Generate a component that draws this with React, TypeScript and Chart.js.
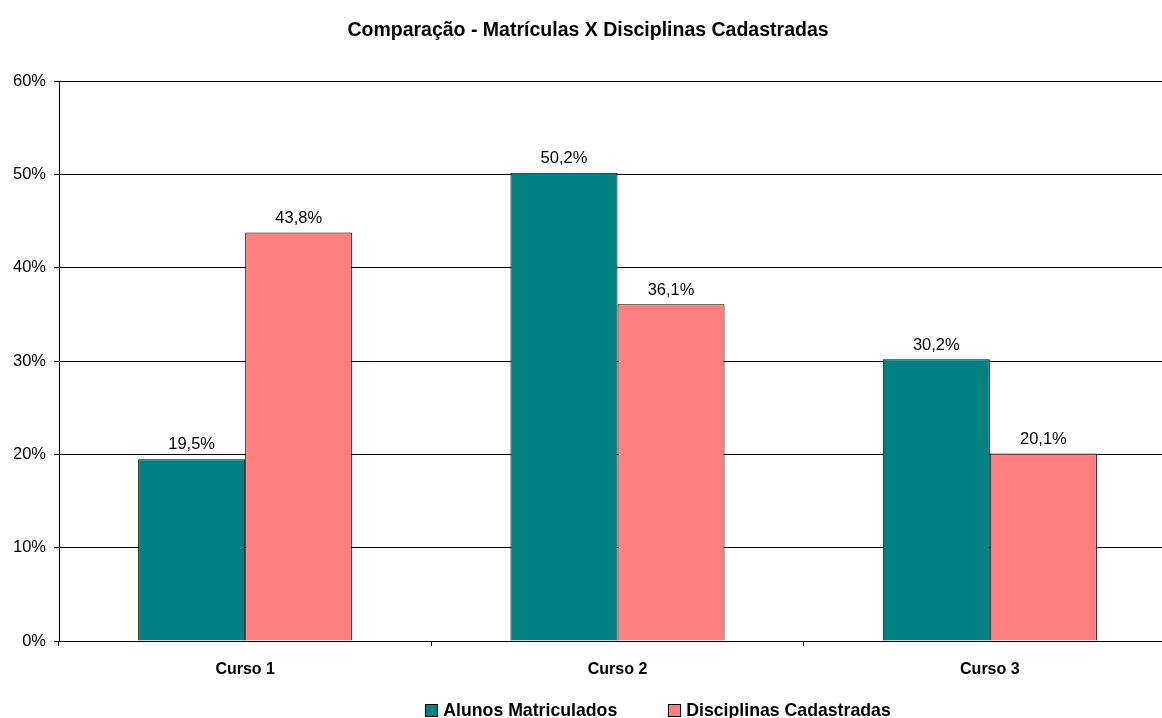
import React, { useEffect, useRef } from "react";
import { Chart, registerables } from "chart.js";

Chart.register(...registerables);

const titleText = "Comparação - Matrículas X Disciplinas Cadastradas";
const categories = ["Curso 1", "Curso 2", "Curso 3"];
const alunosMatriculados = [19.5, 50.2, 30.2];
const disciplinasCadastradas = [43.8, 36.1, 20.1];
const seriesNames = ["Alunos Matriculados", "Disciplinas Cadastradas"];
const seriesColors = ["#008080", "#FF8080"];
const yTickValues = [0, 10, 20, 30, 40, 50, 60];

const FONT = '"Liberation Sans", Arial, Helvetica, sans-serif';

// Canvas is a little wider than the visible frame; the plot runs past the right edge
const CANVAS_W = 1177;
const CANVAS_H = 718;
const FRAME_W = 1162;

const LEGEND_CENTER_X = 658;
const LEGEND_CENTER_Y = 710;

const fmt = (v: number) => v.toFixed(1).replace(".", ",") + "%";

// Writes each bar's value just above it
const valueLabels = {
  id: "valueLabels",
  afterDatasetsDraw(chart: any) {
    const ctx = chart.ctx;
    ctx.save();
    ctx.font = `16.5px ${FONT}`;
    ctx.fillStyle = "#000";
    ctx.textAlign = "center";
    ctx.textBaseline = "bottom";
    chart.data.datasets.forEach((ds: any, i: number) => {
      const meta = chart.getDatasetMeta(i);
      meta.data.forEach((bar: any, j: number) => {
        ctx.fillText(fmt(ds.data[j]), bar.x, bar.y - 6);
      });
    });
    ctx.restore();
  },
};

// Horizontal legend row under the axis labels
const bottomLegend = {
  id: "bottomLegend",
  afterDraw(chart: any) {
    const ctx = chart.ctx;
    const box = 13;
    const textGap = 5;
    const itemGap = 51;
    ctx.save();
    ctx.font = `bold 17.7px ${FONT}`;
    ctx.textBaseline = "middle";
    ctx.textAlign = "left";
    const items = chart.data.datasets.map((ds: any) => ({
      label: ds.label,
      color: ds.backgroundColor,
      w: box + textGap + ctx.measureText(ds.label).width,
    }));
    const total =
      items.reduce((s: number, it: any) => s + it.w, 0) + itemGap * (items.length - 1);
    let x = LEGEND_CENTER_X - total / 2;
    items.forEach((it: any) => {
      const by = Math.round(LEGEND_CENTER_Y - box / 2);
      const bx = Math.round(x);
      ctx.fillStyle = it.color;
      ctx.fillRect(bx, by, box, box);
      ctx.strokeStyle = "#000";
      ctx.lineWidth = 1;
      ctx.strokeRect(bx + 0.5, by + 0.5, box - 1, box - 1);
      ctx.fillStyle = "#000";
      ctx.fillText(it.label, x + box + textGap, LEGEND_CENTER_Y + 1);
      x += it.w + itemGap;
    });
    ctx.restore();
  },
};

export default function App() {
  const ref = useRef<HTMLCanvasElement | null>(null);

  useEffect(() => {
    document.body.style.margin = "0";
    const chart = new Chart(ref.current as HTMLCanvasElement, {
      type: "bar",
      data: {
        labels: categories,
        datasets: [
          {
            label: seriesNames[0],
            data: alunosMatriculados,
            backgroundColor: seriesColors[0],
            borderColor: "#000",
            borderWidth: 1,
          },
          {
            label: seriesNames[1],
            data: disciplinasCadastradas,
            backgroundColor: seriesColors[1],
            borderColor: "#000",
            borderWidth: 1,
          },
        ],
      },
      options: {
        animation: false,
        responsive: false,
        maintainAspectRatio: false,
        layout: { padding: { left: 0, right: 1, top: 0, bottom: 0 } },
        datasets: {
          bar: { barPercentage: 1, categoryPercentage: 0.575 },
        },
        plugins: {
          title: {
            display: true,
            text: titleText,
            color: "#000",
            font: { family: FONT, size: 19.5, weight: "bold" },
            padding: { top: 19, bottom: 39 },
          },
          legend: { display: false },
          tooltip: { enabled: false },
        },
        scales: {
          x: {
            afterFit: (scale: any) => {
              scale.height = 77;
            },
            grid: {
              offset: true,
              drawOnChartArea: false,
              drawTicks: true,
              tickLength: 5,
              color: "#000",
            },
            border: { color: "#000", width: 1 },
            ticks: {
              color: "#000",
              padding: 14,
              font: { family: FONT, size: 16, weight: "bold" },
            },
          },
          y: {
            min: 0,
            max: 60,
            afterFit: (scale: any) => {
              scale.width = 59;
            },
            afterBuildTicks: (scale: any) => {
              scale.ticks = yTickValues.map((v) => ({ value: v }));
            },
            grid: { color: "#000", tickLength: 5, drawTicks: true },
            border: { color: "#000", width: 1 },
            ticks: {
              color: "#000",
              padding: 8,
              font: { family: FONT, size: 16.5 },
              callback: (v: any) => `${v}%`,
            },
          },
        },
      },
      plugins: [valueLabels, bottomLegend],
    });
    return () => chart.destroy();
  }, []);

  return (
    <div
      style={{
        position: "absolute",
        left: 0,
        top: 0,
        width: FRAME_W,
        height: CANVAS_H,
        overflow: "hidden",
        background: "#fff",
      }}
    >
      <canvas ref={ref} width={CANVAS_W} height={CANVAS_H} />
    </div>
  );
}
